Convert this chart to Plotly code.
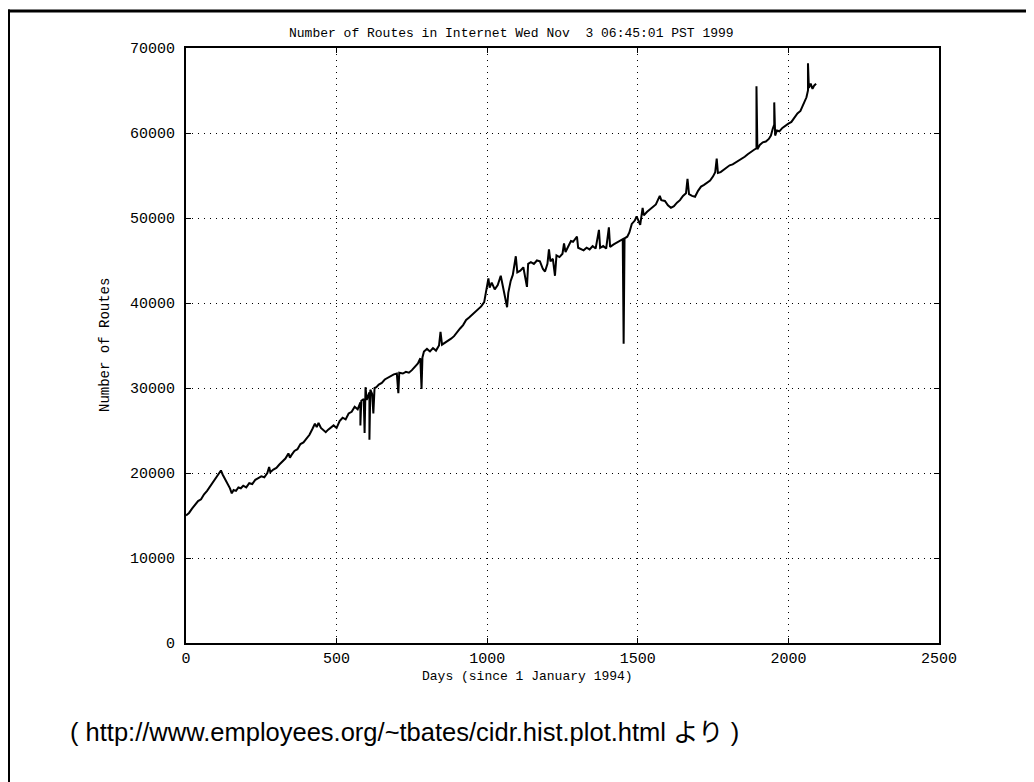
import plotly.graph_objects as go

# ---- data ----
days = [
    0, 10, 20, 30, 40, 50, 60, 70, 80, 90, 100, 110, 116, 122, 130, 138, 146, 152, 158, 166,
    174, 182, 190, 200, 210, 220, 230, 240, 250, 260, 270, 276, 280, 290, 300, 310, 320, 330,
    340, 345, 350, 360, 370, 380, 390, 400, 410, 420, 428, 434, 440, 448, 456, 464, 472, 480,
    490, 500, 510, 520, 530, 540, 550, 560, 570, 579, 579, 582, 590, 593, 596, 600, 609, 609,
    612, 618, 622, 626, 632, 640, 650, 660, 670, 680, 690, 700, 705, 708, 720, 730, 740, 750,
    760, 770, 778, 782, 785, 790, 800, 810, 820, 830, 840, 845, 850, 860, 870, 880, 890, 900,
    910, 920, 930, 940, 950, 960, 970, 980, 990, 996, 1000, 1004, 1008, 1015, 1025, 1035, 1045,
    1050, 1058, 1066, 1070, 1078, 1085, 1095, 1100, 1110, 1120, 1132, 1136, 1145, 1155, 1165,
    1175, 1185, 1192, 1200, 1205, 1210, 1218, 1225, 1230, 1240, 1250, 1255, 1260, 1270, 1278,
    1285, 1292, 1298, 1302, 1310, 1320, 1330, 1340, 1350, 1360, 1371, 1375, 1385, 1395, 1404,
    1408, 1420, 1430, 1440, 1450, 1453, 1456, 1465, 1472, 1480, 1490, 1496, 1500, 1508, 1516,
    1520, 1530, 1540, 1550, 1560, 1573, 1578, 1590, 1600, 1610, 1620, 1630, 1640, 1650, 1660,
    1665, 1670, 1680, 1690, 1700, 1710, 1720, 1730, 1740, 1750, 1757, 1762, 1766, 1775, 1785,
    1795, 1805, 1815, 1825, 1835, 1845, 1855, 1865, 1875, 1885, 1894, 1894, 1897, 1905, 1915,
    1925, 1935, 1942, 1948, 1953, 1953, 1956, 1962, 1970, 1980, 1990, 2000, 2010, 2020, 2030,
    2040, 2048, 2055, 2060, 2065, 2065, 2068, 2074, 2080, 2086, 2092,
]
routes = [
    15000, 15300, 15800, 16200, 16700, 16900, 17500, 17900, 18400, 18900, 19500, 20000, 20300,
    19800, 19300, 18800, 18200, 17600, 18000, 17900, 18300, 18200, 18500, 18300, 18800, 18700,
    19200, 19400, 19600, 19500, 20000, 20700, 20100, 20400, 20600, 21000, 21300, 21700, 22300,
    21800, 22100, 22600, 22800, 23400, 23600, 24100, 24500, 25200, 25800, 25400, 25900, 25300,
    25100, 24800, 25100, 25300, 25600, 25300, 26100, 26500, 26300, 27000, 27200, 27800, 27500,
    28300, 25600, 28500, 28700, 24700, 30100, 28600, 29500, 23900, 29800, 29300, 27000, 30000,
    30100, 30400, 30600, 31000, 31200, 31500, 31600, 31700, 29400, 31800, 31700, 31900, 31800,
    32100, 32500, 32900, 33500, 29900, 33600, 34300, 34600, 34300, 34700, 34400, 35000, 36600,
    35100, 35300, 35600, 35800, 36100, 36600, 37000, 37400, 38000, 38300, 38600, 38900, 39200,
    39600, 40100, 41500, 42100, 42900, 41800, 42400, 41600, 42100, 43200, 42200, 41000, 39500,
    41200, 42600, 43300, 45500, 43600, 43800, 44200, 41900, 44600, 44800, 44600, 45000, 44900,
    44000, 43700, 44600, 46300, 44900, 45200, 43200, 45600, 45400, 45800, 47000, 46000, 46800,
    47300, 47200, 47500, 47800, 46500, 46400, 46200, 46500, 46300, 46700, 46400, 48600, 46500,
    46700, 46400, 48900, 46600, 46900, 47100, 47200, 47500, 35200, 47600, 47800, 48300, 49300,
    49700, 50200, 49800, 49200, 51200, 50300, 50700, 51000, 51300, 51600, 52600, 52100, 52000,
    51500, 51200, 51400, 51800, 52100, 52600, 52900, 54600, 52800, 52600, 52500, 53200, 53700,
    53900, 54200, 54400, 54900, 55400, 57000, 55300, 55400, 55700, 55900, 56200, 56300, 56500,
    56700, 57000, 57200, 57500, 57800, 58000, 58200, 65500, 58100, 58600, 58900, 59000, 59300,
    59700, 60500, 61000, 63600, 59700, 60300, 60200, 60600, 60900, 61100, 61300, 61800, 62300,
    62600, 63300, 63700, 64200, 65000, 68200, 65300, 65800, 65200, 65600, 65800,
]
x_ticks = [0, 500, 1000, 1500, 2000, 2500]
y_ticks = [0, 10000, 20000, 30000, 40000, 50000, 60000, 70000]

title_text = "Number of Routes in Internet Wed Nov&nbsp;&nbsp;3 06:45:01 PST 1999"
x_title = "Days (since 1 January 1994)"
y_title = "Number of Routes"
caption = "( http://www.employees.org/~tbates/cidr.hist.plot.html より )"

# ---- layout geometry (figure pixels; the page adds an 8px body margin) ----
W, H = 1034, 782
OFF = 8
L, T = 186 - OFF, 48 - OFF
PLOT_RIGHT, PLOT_BOTTOM = 939 - OFF, 643 - OFF
R, B = W - PLOT_RIGHT, H - PLOT_BOTTOM
PW, PH = PLOT_RIGHT - L, PLOT_BOTTOM - T


def px(x_page):
    return (x_page - OFF - L) / PW


def py(y_page):
    return (PLOT_BOTTOM - (y_page - OFF)) / PH


mono = "Liberation Mono, DejaVu Sans Mono, monospace"
FS = 15

fig = go.Figure()
fig.add_trace(go.Scatter(x=days, y=routes, mode="lines",
                         line=dict(color="black", width=2), showlegend=False,
                         hoverinfo="skip"))

axis_common = dict(
    showline=True, linecolor="black", linewidth=2, mirror="allticks",
    ticks="inside", ticklen=5, tickwidth=1, tickcolor="black",
    showgrid=True, gridcolor="black", gridwidth=1, griddash="1px,5px",
    zeroline=False, tickfont=dict(family=mono, size=FS, color="black"),
)

fig.update_xaxes(range=[0, 2500], tickvals=x_ticks, ticktext=[str(v) for v in x_ticks],
                 ticklabelstandoff=0, **axis_common)
fig.update_yaxes(range=[0, 70000], tickvals=y_ticks, ticktext=[str(v) for v in y_ticks],
                 ticklabelstandoff=6, **axis_common)

annotations = [
    dict(text=title_text, x=px(511), y=py(33), xref="paper", yref="paper",
         xanchor="center", yanchor="middle", showarrow=False,
         font=dict(family=mono, size=13, color="black")),
    dict(text=x_title, x=px(527), y=py(676), xref="paper", yref="paper",
         xanchor="center", yanchor="middle", showarrow=False,
         font=dict(family=mono, size=13, color="black")),
    dict(text=y_title, x=px(105), y=py(345), xref="paper", yref="paper",
         xanchor="center", yanchor="middle", showarrow=False, textangle=-90,
         font=dict(family=mono, size=14, color="black")),
    dict(text=caption, x=px(68), y=py(732), xref="paper", yref="paper",
         xanchor="left", yanchor="middle", showarrow=False,
         font=dict(family="Liberation Sans, Arial, Noto Sans CJK JP, sans-serif",
                   size=25.5, color="black")),
]

shapes = [
    dict(type="line", xref="paper", yref="paper", x0=px(6), x1=px(W + 10),
         y0=py(11), y1=py(11), line=dict(color="black", width=3)),
    dict(type="line", xref="paper", yref="paper", x0=px(8.5), x1=px(8.5),
         y0=py(9.5), y1=py(H + 10), line=dict(color="black", width=3)),
]

fig.update_layout(
    width=W, height=H, autosize=False,
    margin=dict(l=L, r=R, t=T, b=B),
    paper_bgcolor="white", plot_bgcolor="white",
    annotations=annotations, shapes=shapes,
)

fig.write_html("out.html")
